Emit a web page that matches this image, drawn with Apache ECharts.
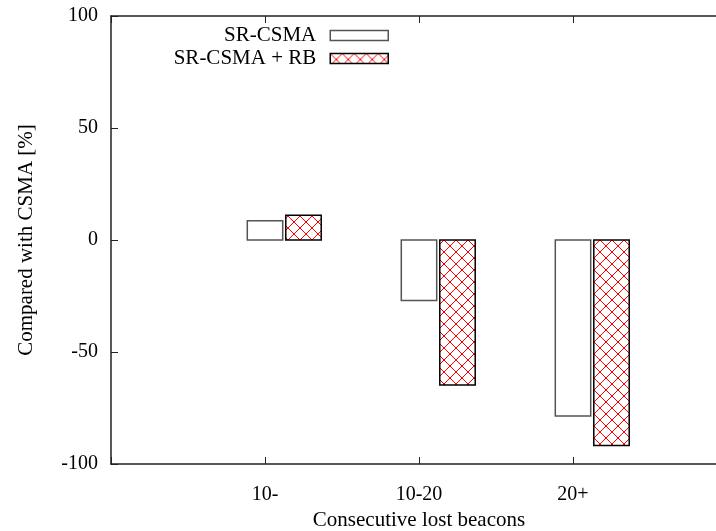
<!DOCTYPE html>
<html>
<head>
<meta charset="utf-8">
<script src="https://cdn.jsdelivr.net/npm/echarts@6/dist/echarts.min.js"></script>
<style>
  html, body { margin: 0; padding: 0; background: #fff; }
  #chart { width: 716px; height: 531px; }
</style>
</head>
<body>
<div id="chart"></div>
<script>
// values
const categories = ["10-", "10-20", "20+"];
const srCsma = [8.6, -27.0, -78.6];
const srCsmaRb = [11.0, -64.7, -91.7];
const seriesNames = ["SR-CSMA", "SR-CSMA + RB"];

const FONT = "Liberation Serif";
const BAR_W = 0.23;   // bar width in x units
const RB_SHIFT = 0.25; // second bar sits right of the tick

// red cross-hatch fill
function makeHatch() {
  const c = document.createElement("canvas");
  c.width = 12;
  c.height = 12;
  const ctx = c.getContext("2d");
  ctx.fillStyle = "#fff";
  ctx.fillRect(0, 0, 12, 12);
  ctx.strokeStyle = "#ff0000";
  ctx.lineWidth = 1;
  ctx.beginPath();
  ctx.moveTo(0, 0);
  ctx.lineTo(12, 12);
  ctx.moveTo(12, 0);
  ctx.lineTo(0, 12);
  ctx.stroke();
  return c;
}
const hatch = { image: makeHatch(), repeat: "repeat" };

function barRenderer(shift, fill, stroke) {
  return function (params, api) {
    const x = api.value(0) + shift;
    const v = api.value(1);
    const p0 = api.coord([x - BAR_W / 2, 0]);
    const p1 = api.coord([x + BAR_W / 2, v]);
    return {
      type: "rect",
      shape: {
        x: Math.min(p0[0], p1[0]),
        y: Math.min(p0[1], p1[1]),
        width: Math.abs(p1[0] - p0[0]),
        height: Math.abs(p1[1] - p0[1]),
      },
      style: { fill: fill, stroke: stroke, lineWidth: 1.5 },
    };
  };
}

const chart = echarts.init(document.getElementById("chart"));
chart.setOption({
  animation: false,
  textStyle: { fontFamily: FONT },
  grid: { left: 111, right: -11, top: 16, bottom: 67, outerBoundsMode: "none" },
  legend: {
    orient: "vertical",
    align: "right",
    right: 327,
    top: 24,
    padding: 0,
    itemGap: 0,
    itemWidth: 58,
    itemHeight: 10,
    icon: "rect",
    textStyle: {
      fontFamily: FONT,
      fontSize: 21,
      color: "#000",
      lineHeight: 23,
      padding: [0, 9, 0, 0],
    },
    data: [
      { name: seriesNames[0], itemStyle: { color: "#fff", borderColor: "#555", borderWidth: 1.5 } },
      { name: seriesNames[1], itemStyle: { color: hatch, borderColor: "#000", borderWidth: 1.5 } },
    ],
  },
  xAxis: [
    {
      type: "value",
      min: -1,
      max: 3,
      interval: 1,
      position: "bottom",
      name: "Consecutive lost beacons",
      nameLocation: "middle",
      nameGap: 46,
      nameTextStyle: { fontFamily: FONT, fontSize: 21, color: "#000" },
      axisLine: { onZero: false, lineStyle: { color: "#222", width: 1.5 } },
      axisTick: { inside: true, length: 7, lineStyle: { color: "#222" } },
      axisLabel: {
        margin: 21,
        fontFamily: FONT,
        fontSize: 20,
        color: "#000",
        formatter: (v) => (categories[v] !== undefined ? categories[v] : ""),
      },
      splitLine: { show: false },
    },
    {
      type: "value",
      min: -1,
      max: 3,
      interval: 1,
      position: "top",
      axisLine: { onZero: false, lineStyle: { color: "#222", width: 1.5 } },
      axisTick: { inside: true, length: 7, lineStyle: { color: "#222" } },
      axisLabel: { show: false },
      splitLine: { show: false },
    },
  ],
  yAxis: {
    type: "value",
    min: -100,
    max: 100,
    interval: 50,
    name: "Compared with CSMA [%]",
    nameLocation: "middle",
    nameGap: 74,
    nameTextStyle: { fontFamily: FONT, fontSize: 21, color: "#000" },
    axisLine: { show: true, onZero: false, lineStyle: { color: "#222", width: 1.5 } },
    axisTick: { show: true, inside: true, length: 7, lineStyle: { color: "#222" } },
    axisLabel: { margin: 13, fontFamily: FONT, fontSize: 20, color: "#000" },
    splitLine: { show: false },
  },
  series: [
    {
      name: seriesNames[0],
      type: "custom",
      renderItem: barRenderer(0, "#fff", "#555"),
      itemStyle: { color: "#fff", borderColor: "#555", borderWidth: 1.5 },
      data: categories.map((c, i) => [i, srCsma[i]]),
    },
    {
      name: seriesNames[1],
      type: "custom",
      renderItem: barRenderer(RB_SHIFT, hatch, "#000"),
      itemStyle: { color: hatch, borderColor: "#000", borderWidth: 1.5 },
      data: categories.map((c, i) => [i, srCsmaRb[i]]),
    },
  ],
});
</script>
</body>
</html>
